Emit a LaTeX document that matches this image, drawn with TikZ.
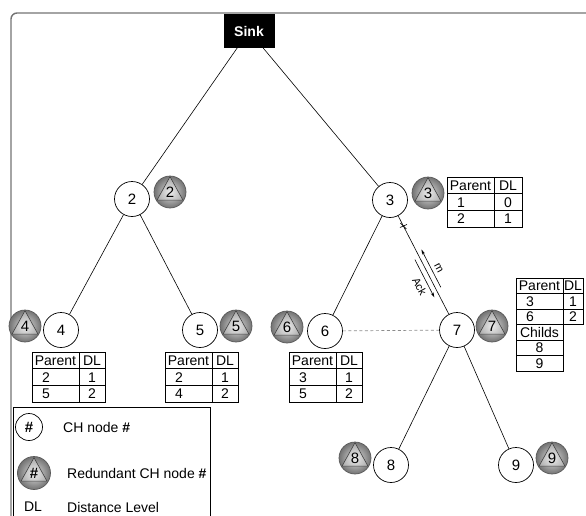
\documentclass[tikz,border=0pt]{standalone}
\usepackage{fontspec}
\setmainfont{Liberation Sans}
\usetikzlibrary{calc,arrows.meta}
\newcommand\ptab[8]{%
  \begin{scope}[shift={(#2,#3)}]
    \draw[tabline] (0,0) rectangle (#4,50);
    \draw[tabline] (0,16.7) -- (#4,16.7) (0,33.3) -- (#4,33.3) (47,0) -- (47,50);
    \node[tabtxt] (#1a) at (23.5,8.5) {Parent};
    \node[tabtxt] (#1b) at ({(47+#4)/2},8.5) {DL};
    \node[tabtxt] (#1c) at (14,25.1) {#5};
    \node[tabtxt] (#1d) at ({(47+#4)/2},25.1) {#6};
    \node[tabtxt] (#1e) at (14,41.7) {#7};
    \node[tabtxt] (#1f) at ({(47+#4)/2},41.7) {#8};
  \end{scope}}
\begin{document}
\begin{tikzpicture}[x=1pt,y=-1pt,
  chnode/.style={circle,draw=black,fill=white,line width=0.7pt,minimum size=35pt,inner sep=0pt,font=\fontsize{15}{15}\selectfont},
  rednode/.style={circle,draw=black!65,line width=0.7pt,minimum size=32pt,inner sep=0pt,
    inner color=black!12,outer color=black!55,font=\fontsize{15}{15}\selectfont,
    path picture={\draw[black!75,line width=0.6pt,fill=white,fill opacity=0.35]
      ($(path picture bounding box.center)+(90:15.3pt)$) --
      ($(path picture bounding box.center)+(212:15.3pt)$) --
      ($(path picture bounding box.center)+(328:15.3pt)$) -- cycle;}},
  link/.style={draw=black,line width=0.6pt},
  tabline/.style={draw=black,line width=0.7pt},
  tabtxt/.style={inner sep=0pt,font=\fontsize{14}{14}\selectfont,text height=10pt,text depth=0pt,anchor=center},
  arr/.style={draw=black,line width=0.6pt,-{Stealth[length=5pt,width=3pt]}},
  lbl/.style={inner sep=0pt,font=\fontsize{11}{11}\selectfont,rotate=-62},
  legtxt/.style={inner sep=0pt,anchor=west,font=\fontsize{14}{14}\selectfont},
  framel/.style={draw=black!55,line width=1.4pt,rounded corners=6pt}
]
\useasboundingbox (0,0) rectangle (586,515);
% outer frame
\draw[framel] (586,13) -- (11,13) -- (11,520);

% sink
\node[draw=black,fill=black,minimum width=50pt,minimum height=33pt,inner sep=0pt,
  text=white,font=\fontsize{14}{14}\selectfont\bfseries] (sink) at (249,31) {Sink};

% CH nodes
\node[chnode] (n2) at (132,199) {2};
\node[chnode] (n3) at (390,200) {3};
\node[chnode] (n4) at (61,330) {4};
\node[chnode] (n5) at (200,330) {5};
\node[chnode] (n6) at (325,331) {6};
\node[chnode] (n7) at (457,330) {7};
\node[chnode] (n8) at (391,465) {8};
\node[chnode] (n9) at (516,465) {9};

% redundant nodes
\node[rednode] (r2) at (170,192) {2};
\node[rednode] (r3) at (428,193) {3};
\node[rednode] (r4) at (25,326) {4};
\node[rednode] (r5) at (236,326) {5};
\node[rednode] (r6) at (287,327) {6};
\node[rednode] (r7) at (492,326) {7};
\node[rednode] (r8) at (355,458) {8};
\node[rednode] (r9) at (552,458) {9};

% links
\draw[link] (sink) -- (n2);
\draw[link] (sink) -- (n3);
\draw[link] (n2) -- (n4);
\draw[link] (n2) -- (n5);
\draw[link] (n3) -- (n6);
\draw[link] (n3) -- (n7);
\draw[link] (n7) -- (n8);
\draw[link] (n7) -- (n9);
\draw[draw=black!45,line width=0.7pt,dash pattern=on 3pt off 2.5pt] (n6) -- (n7);

% cross mark on link 3-7
\coordinate (xm) at ($(n3)!0.2!(n7)$);
\draw[link] ($(xm)+(-3,-3)$) -- ($(xm)+(3,3)$);
\draw[link] ($(xm)+(-3.5,1.5)$) -- ($(xm)+(3.5,-1.5)$);

% m / Ack arrows
\coordinate (mA) at ($(n3)!0.69!(n7)+(4.6,-2.4)$);
\coordinate (mB) at ($(n3)!0.40!(n7)+(4.6,-2.4)$);
\coordinate (aA) at ($(n3)!0.44!(n7)+(-4.6,2.4)$);
\coordinate (aB) at ($(n3)!0.73!(n7)+(-4.6,2.4)$);
\draw[arr] (mA) -- (mB);
\draw[arr] (aA) -- (aB);
\node[lbl] (mlab) at ($(n3)!0.56!(n7)+(11,-5)$) {m};
\node[lbl] (acklab) at ($(n3)!0.62!(n7)+(-12,6)$) {Ack};

% tables
\ptab{tt}{447}{177}{75}{1}{0}{2}{1}
\ptab{tf}{32}{352}{73}{2}{1}{5}{2}
\ptab{tv}{165}{352}{73}{2}{1}{4}{2}
\ptab{ts}{289}{352}{73}{3}{1}{5}{2}
\begin{scope}[shift={(516,278)}]
  \draw[tabline] (0,0) rectangle (67,46.5);
  \draw[tabline] (0,15.5) -- (67,15.5) (0,31) -- (67,31) (47,0) -- (47,46.5);
  \node[tabtxt] (twa) at (23.5,7.8) {Parent};
  \node[tabtxt] (twb) at (57,7.8) {DL};
  \node[tabtxt] (twc) at (14,23.3) {3};
  \node[tabtxt] (twd) at (57,23.3) {1};
  \node[tabtxt] (twe) at (14,38.8) {6};
  \node[tabtxt] (twf) at (57,38.8) {2};
  \draw[tabline] (0,46.5) rectangle (47,93);
  \draw[tabline] (0,62) -- (47,62) (0,77.5) -- (47,77.5);
  \node[tabtxt] (ch1) at (23.5,54.3) {Childs};
  \node[tabtxt] (ch2) at (23.5,69.8) {8};
  \node[tabtxt] (ch3) at (23.5,85.3) {9};
\end{scope}

% legend
\draw[tabline] (13,530) -- (13,407) -- (210,407) -- (210,530);
\node[chnode,minimum size=27pt] (lg1) at (29,427) {\textbf{\#}};
\node[legtxt] (lg1t) at (63,427) {CH node \textbf{\#}};
\node[rednode,minimum size=33pt] (lg2) at (34,473) {\textbf{\#}};
\node[legtxt] (lg2t) at (67,473) {Redundant CH node \textbf{\#}};
\node[inner sep=0pt,font=\fontsize{14}{14}\selectfont] (lg3) at (33,507) {DL};
\node[legtxt] (lg3t) at (67,507) {Distance Level};
\end{tikzpicture}
\end{document}
